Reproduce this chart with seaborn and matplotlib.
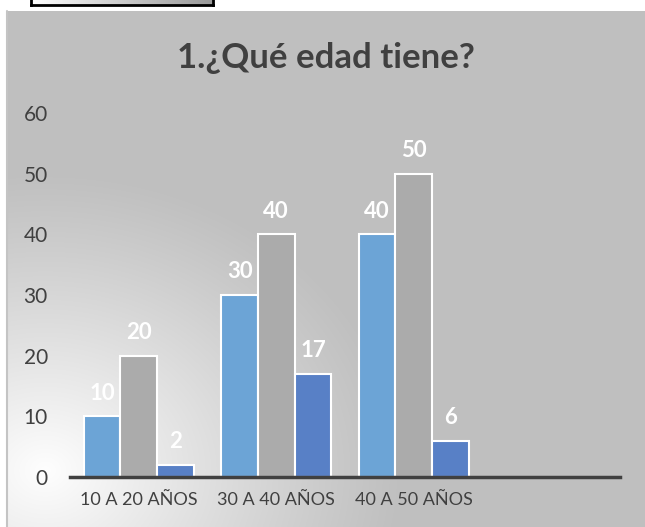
import numpy as np
import pandas as pd
import matplotlib
matplotlib.use("Agg")
import matplotlib.pyplot as plt
import seaborn as sns

# data
categories = ["10 A 20 AÑOS", "30 A 40 AÑOS", "40 A 50 AÑOS", ""]
series_names = ["Serie 1", "Serie 2", "Serie 3"]
serie1 = [10, 30, 40]
serie2 = [20, 40, 50]
serie3 = [2, 17, 6]
colors = ["#6CA4D6", "#ABABAB", "#5880C6"]
title = "1.¿Qué edad tiene?"
yticks = [0, 10, 20, 30, 40, 50, 60]

W, H = 645, 527
DPI = 100

sns.set_theme(style="white")
plt.rcParams["font.family"] = ["Lato", "DejaVu Sans"]

rows = []
for name, vals in zip(series_names, [serie1, serie2, serie3]):
    for cat, v in zip(categories[:3], vals):
        rows.append({"cat": cat, "serie": name, "valor": v})
df = pd.DataFrame(rows)

fig = plt.figure(figsize=(W / DPI, H / DPI), dpi=DPI)
fig.patch.set_facecolor("white")

# radial grey background of the chart area (pixel coords, y down)
x0, x1, y0, y1 = 7, W, 11, H
yy, xx = np.mgrid[y0:y1, x0:x1].astype(float)
cx, cy = 45, 470
r = np.sqrt(((xx - cx) / 360.0) ** 2 + ((yy - cy) / 300.0) ** 2)
t = np.clip(1 - r, 0, 1) ** 1.1
grey = 191 + (254 - 191) * t
img = np.dstack([grey, grey, grey]) / 255.0

bg = fig.add_axes([x0 / W, 0, (x1 - x0) / W, (y1 - y0) / H])
bg.imshow(img, aspect="auto", extent=[x0, x1, y1, y0])
bg.set_axis_off()
fig.add_artist(plt.Line2D([x0 / W, x0 / W], [0, (H - y0) / H], color="#C4C4C4", lw=1.5))

# small box cut at the top of the picture
box = fig.add_axes([31 / W, (H - 5) / H, (213 - 31) / W, 12 / H])
grad = np.linspace(1.0, 0.6, 200)[None, :]
box.imshow(np.dstack([grad, grad, grad]), aspect="auto", extent=[0, 1, 0, 1])
box.set_xticks([])
box.set_yticks([])
for s in box.spines.values():
    s.set_color("black")
    s.set_linewidth(2)

ax = fig.add_axes([70 / W, 50 / H, 550 / W, 364 / H])
ax.patch.set_alpha(0)
sns.barplot(data=df, x="cat", y="valor", hue="serie", order=categories,
            hue_order=series_names, palette=colors, width=0.8,
            edgecolor="white", linewidth=1.5, saturation=1, ax=ax, legend=False)

for cont in ax.containers:
    ax.bar_label(cont, fmt="%d", padding=9, color="white", fontsize=16, fontweight="bold")

ax.set_xlim(-0.5, 3.5)
ax.set_ylim(0, 60)
ax.set_yticks(yticks)
ax.set_xlabel("")
ax.set_ylabel("")
ax.tick_params(axis="y", length=0, pad=16, labelsize=15, labelcolor="#404040")
ax.tick_params(axis="x", length=0, pad=11, labelsize=13, labelcolor="#404040")
for side in ["left", "right", "top"]:
    ax.spines[side].set_visible(False)
ax.spines["bottom"].set_color("#404040")
ax.spines["bottom"].set_linewidth(2.5)

fig.text(326 / W, (H - 58) / H, title, ha="center", va="center",
         fontsize=25, fontweight="bold", color="#404040")

fig.savefig("out.png", dpi=DPI)
